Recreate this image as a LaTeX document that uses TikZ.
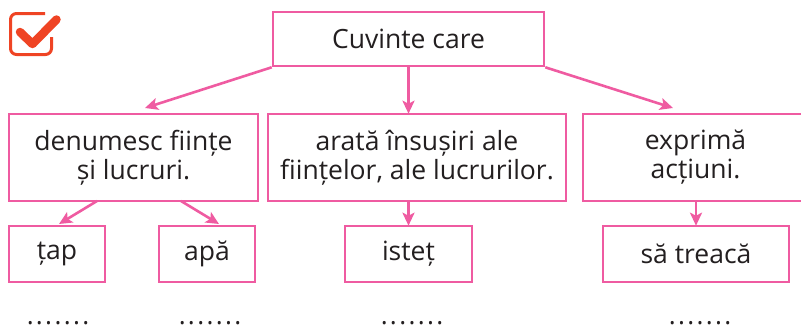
\documentclass[tikz,border=0pt]{standalone}
\usepackage{fontspec}
\setmainfont{Open Sans}
\usetikzlibrary{arrows.meta}
\definecolor{pinkline}{RGB}{239,91,161}
\definecolor{checkred}{RGB}{239,68,36}
\definecolor{txt}{RGB}{35,31,32}
\tikzset{
  box/.style={draw=pinkline, line width=2.6pt, fill=white, inner sep=0pt, text=txt, align=center,
    font=\fontsize{26.5}{29}\selectfont},
  arr/.style={draw=pinkline, line width=2.6pt, -{Stealth[length=13pt,width=12pt,inset=3pt]}},
  dots/.style={text=txt, font=\fontsize{26}{29}\selectfont\addfontfeature{LetterSpace=9}, inner sep=0pt, anchor=base}
}
\begin{document}
\begin{tikzpicture}[x=1pt,y=-1pt]
\useasboundingbox (0,0) rectangle (801,327);
\clip (0,0) rectangle (801,327);
% checkbox icon
\draw[checkred, line width=3pt, rounded corners=6pt] (45,13.5) -- (10.5,13.5) -- (10.5,54.5) -- (51.5,54.5) -- (51.5,37);
\draw[checkred, line width=8.5pt, line cap=round, line join=round] (20,32) -- (32.5,44) -- (56.5,19.5);
% nodes
\node[box, minimum width=271pt, minimum height=54pt] (top) at (408.5,39) {Cuvinte care};
\node[box, minimum width=249pt, minimum height=87pt] (b1) at (133.5,157.5) {denumesc ființe\\și lucruri.};
\node[box, minimum width=298pt, minimum height=87pt] (b2) at (417,157.5) {arată însușiri ale\\ființelor, ale lucrurilor.};
\node[box, minimum width=225pt, minimum height=87pt] (b3) at (695.5,157.5) {exprimă\\acțiuni.};
\node[box, minimum width=96pt, minimum height=56pt] (c1) at (57,254) {țap};
\node[box, minimum width=96pt, minimum height=56pt] (c2) at (207,254) {apă};
\node[box, minimum width=127pt, minimum height=56pt] (c3) at (408.5,254) {isteț};
\node[box, minimum width=186pt, minimum height=56pt] (c4) at (696,254) {să treacă};
% arrow end points
\coordinate (e1) at (145,108);
\coordinate (e3) at (673,108);
\coordinate (s11) at (97,201);
\coordinate (e11) at (59,224);
\coordinate (s12) at (181,201);
\coordinate (e12) at (219,224);
% connectors
\draw[arr] (top.south west) -- (e1);
\draw[arr] (top.south -| c3.north) -- ([yshift=-1pt]b2.north -| c3.north);
\draw[arr] (top.south east) -- (e3);
\draw[arr] (s11) -- (e11);
\draw[arr] (s12) -- (e12);
\draw[arr] (b2.south -| c3.north) -- ([yshift=-1pt]c3.north);
\draw[arr] (b3.south -| c4.north) -- ([yshift=-1pt]c4.north);
% dots
\node[dots] (d1) at (58,324) {.......};
\node[dots] (d2) at (210,324) {.......};
\node[dots] (d3) at (412,324) {.......};
\node[dots] (d4) at (700,324) {.......};
\end{tikzpicture}
\end{document}
